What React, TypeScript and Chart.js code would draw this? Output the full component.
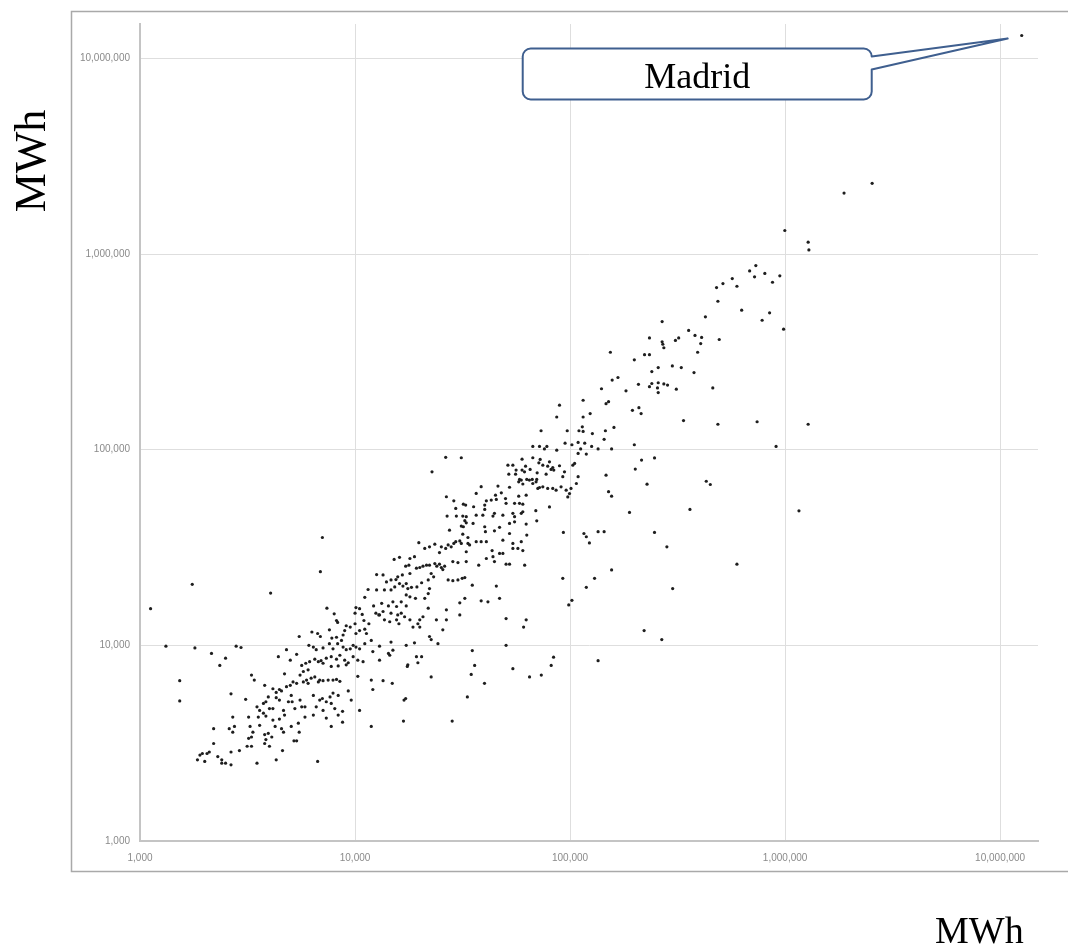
import React, { useEffect, useRef } from "react";
import { Chart, registerables } from "chart.js";

Chart.register(...registerables);

// Axis unit and tick values (decades)
const axisUnit = "MWh";
const decadeTicks = [1000, 10000, 100000, 1000000, 10000000];
const axisMin = 1000;
const axisMax = 15000000;

// Highlighted municipality
const highlight = { label: "Madrid", x: 12600000, y: 13100000 };

// Scatter points [x MWh, y MWh]
const lowOutliers: [number, number][] = [
  [1120, 15400], [1750, 20500], [1320, 9900], [1800, 9700], [2150, 9100], [2500, 8600], [2350, 7900],
  [2800, 9900], [2950, 9750], [4050, 18500], [6900, 23800], [7050, 35600], [1530, 6600], [1530, 5200],
];

const smallTowns: [number, number][] = [
  [7400, 15500], [8000, 14500], [10100, 15600], [10500, 15400], [10000, 14600], [10800, 14400], [12200, 15900],
  [12500, 14600], [12900, 14300], [8200, 13400], [8300, 13100], [9100, 12600], [9500, 12400], [10000, 12900],
  [11000, 13400], [11600, 12900], [11100, 12100], [10500, 11900], [10100, 11500], [8950, 11900], [8800, 11300],
  [8650, 10600], [8200, 11000], [7800, 10900], [7600, 12000], [6900, 11100], [6700, 11500], [6300, 11700], [5500, 11100],
  [4800, 9500], [6100, 10000], [6400, 9800], [6600, 9500], [7100, 9700], [7600, 10200], [7900, 9600], [8300, 10200],
  [8800, 9800], [9100, 9500], [9500, 9600], [9800, 10000], [10100, 9800], [10500, 9600], [11100, 10200], [12100, 9300],
  [11900, 10600], [11300, 11500],
  [4400, 8750], [5000, 8400], [5350, 9000], [5650, 7900], [5900, 8100], [6150, 8250], [6050, 7500], [5750, 7350],
  [6500, 8500], [6750, 8250], [6950, 8350], [7100, 8100], [7350, 8600], [7750, 8750], [8200, 8500], [8500, 8900],
  [8950, 8400], [9300, 8150], [9800, 8750], [10300, 8400], [10900, 8250], [7750, 7800], [8350, 7850], [9100, 7950],
  [3300, 7050], [3400, 6650], [2650, 5650], [3100, 5300], [3800, 6250], [4150, 6000], [4300, 5750], [4450, 5950],
  [4550, 5850], [4700, 7150], [4800, 6150], [5000, 6250], [5150, 6500], [5050, 5550], [5350, 6400], [5550, 7050],
  [5750, 6500], [5950, 6650], [6050, 6400], [6250, 6800], [6500, 6900], [6750, 6500], [6850, 6650], [7100, 6600],
  [7500, 6650], [7900, 6650], [8200, 6700], [8500, 6550], [9300, 5850], [9600, 5250], [10300, 6950], [10500, 4650],
  [11900, 6650], [12100, 5950], [11900, 3850],
  [3500, 4850], [3600, 4650], [3750, 5050], [3850, 5150], [3950, 5450], [4000, 4750], [4150, 4750], [4300, 5400],
  [4450, 5250], [4650, 4650], [4900, 5150], [5100, 5150], [5250, 4750], [5550, 5250], [5650, 4850], [5850, 4850],
  [6400, 5550], [6600, 4850], [6850, 5250], [7050, 5350], [7350, 5150], [7650, 5450], [7750, 5050], [7900, 5700],
  [8050, 4750], [8350, 5550], [8750, 4600], [7100, 4650], [7350, 4250], [8350, 4400], [7750, 3850], [8750, 4050],
  [2700, 4300], [3200, 4300], [3550, 4300], [3750, 4500], [3850, 4350], [4150, 4150], [4450, 4200], [4700, 4400],
  [5850, 4300], [6400, 4400],
  [2200, 3750], [2600, 3750], [2700, 3600], [2750, 3850], [3250, 3850], [3350, 3600], [3300, 3400], [3200, 3350],
  [3600, 3900], [3800, 3500], [3950, 3550], [4100, 3400], [4250, 3850], [4550, 3750], [4650, 3600], [5050, 3850],
  [5450, 4000], [5500, 3600], [5200, 3250], [5350, 3250],
  [3150, 3050], [3300, 3050], [3800, 3150], [3850, 3300], [4000, 3050], [2900, 2900], [2650, 2850], [2200, 3150],
  [2100, 2850], [2050, 2800], [1950, 2800], [1900, 2750], [2300, 2700], [2400, 2600], [2400, 2500], [2500, 2500],
  [2000, 2550], [1850, 2600], [2650, 2450], [3500, 2500], [4300, 2600], [4600, 2900], [6700, 2550],
];

const mediumTowns: [number, number][] = [
  [38600, 64700], [46200, 65200], [47900, 60200], [52300, 64300], [57700, 68500], [60300, 66800], [62500, 58600],
  [57700, 57900], [26600, 57500], [28800, 54800], [29400, 50100], [31900, 52700], [32700, 52100], [36600, 59800],
  [40100, 52100], [40800, 54800], [43000, 55300], [45400, 55700], [45000, 58600], [50100, 56300], [50400, 53200],
  [55200, 53200], [58200, 53200], [60300, 52700], [35600, 51100], [40100, 49500], [26800, 45800], [29600, 45800],
  [31700, 45800], [32900, 45500], [32400, 43400], [32900, 42300], [36600, 46300], [39300, 46300], [43800, 45800],
  [44500, 47300], [48700, 46300], [54200, 47300], [55200, 45500], [59300, 47300], [60300, 48200],
  [27500, 38800], [31200, 40700], [31900, 40400], [35400, 42000], [40100, 40400], [40400, 38100], [44500, 38500],
  [47000, 40100], [52300, 42000], [55200, 42800], [62500, 41700], [52300, 37300], [31700, 37000], [33500, 35600],
  [30700, 34200], [29400, 33900], [28800, 33200], [31200, 33200], [33500, 33200], [34100, 32600], [32900, 30100],
  [36600, 33900], [38600, 33900], [40800, 33900], [48700, 34500], [54200, 33200], [59300, 33900], [19800, 33500],
  [21100, 31300], [22200, 31900], [23500, 32900], [25200, 31900], [26400, 31300], [27100, 32600], [28000, 31900],
  [54200, 31300], [57200, 31300], [60300, 30500], [43400, 30500], [47000, 29500], [48700, 29500],
  [24700, 29800], [18900, 28400], [18000, 27800], [16100, 28200], [15200, 27500], [17200, 25400], [17800, 25700],
  [19300, 24800], [20000, 25000], [20700, 25400], [21500, 25700], [22200, 25700], [23500, 26200], [24000, 25400],
  [24700, 26000], [25200, 25000], [25600, 24400], [26100, 25400], [28500, 26800], [30100, 26500], [32900, 26800],
  [37600, 25700], [40800, 27800], [43800, 28400], [44500, 26800], [52300, 26000], [50400, 26000], [61500, 25700],
  [18000, 23300], [16600, 22900], [15800, 22400], [15500, 21700], [14700, 21600], [14000, 21100], [13500, 22900],
  [12600, 23000], [13700, 19200], [14700, 19200], [15300, 19900], [16100, 20700], [16700, 20100], [17300, 20700],
  [17600, 19500], [18300, 19800], [19400, 19900], [20400, 20900], [21900, 21600], [22600, 23300], [23200, 22400],
  [22200, 19500], [21900, 18400], [21100, 17400], [19100, 17400], [18000, 17700], [17300, 18100], [27100, 21600],
  [28500, 21400], [30100, 21600], [31500, 22000], [32400, 22200], [35100, 20300], [45400, 20100], [47000, 17400],
  [38600, 16900], [41500, 16700], [30700, 16500], [32400, 17400],
  [11100, 17600], [12600, 19200], [11500, 19300], [13300, 16400], [14300, 15900], [15000, 16700], [15600, 15800],
  [16400, 16700], [17300, 15900], [16400, 14600], [15800, 14300], [14700, 14600], [13500, 14900], [13000, 14300],
  [13700, 13500], [14500, 13200], [15600, 13500], [16000, 12900], [17000, 14000], [18000, 13500], [18600, 12400],
  [19600, 12900], [20000, 13500], [20700, 14000], [21900, 15500], [23900, 13500], [26600, 15200], [25600, 12000],
  [26600, 13500], [22200, 11100], [22600, 10700], [24300, 10200], [18900, 10300], [17300, 10000], [20000, 12400],
  [30700, 14300], [50400, 13700], [60800, 12400], [62500, 13500], [50400, 10000], [35100, 9400], [36000, 7900],
  [34700, 7100], [54200, 7600], [64800, 6900], [19300, 8750], [20400, 8750], [17600, 7950], [17500, 7800],
  [19600, 8150], [22600, 6900], [14700, 10400], [15000, 9450], [13000, 9900], [13000, 8400], [14300, 9100],
  [14500, 8900], [26400, 91400], [22800, 77100], [16800, 4100], [28300, 4100], [16900, 5250], [17200, 5350],
  [33300, 5450], [40000, 6400], [13500, 6600], [14900, 6400],
];

const largeTowns: [number, number][] = [
  [140000, 205000], [157000, 227000], [182000, 200000], [208000, 216000], [89300, 169000], [86700, 147000],
  [115000, 179000], [124000, 153000], [115000, 147000], [147000, 172000], [151000, 176000], [195000, 159000],
  [209000, 164000], [214000, 153000], [73300, 125000], [97000, 125000], [110000, 125000], [114000, 131000],
  [115000, 124000], [127000, 121000], [146000, 125000], [144000, 113000], [160000, 130000], [67100, 104000],
  [72100, 104000], [76000, 101000], [78000, 104000], [86700, 99500], [94800, 108000], [102000, 106000],
  [109000, 109000], [117000, 108000], [109000, 95700], [112000, 101000], [119000, 95000], [126000, 104000],
  [135000, 101000], [156000, 101000], [199000, 106000], [215000, 88500], [201000, 79600], [31200, 91000],
  [59800, 89500], [67100, 91000], [72600, 89200], [71600, 85700], [74700, 83400], [78700, 82400], [80200, 86700],
  [81600, 79300], [83100, 81100], [84000, 78700], [89300, 82800], [103000, 83400], [105000, 85100], [94200, 77100],
  [92500, 72800], [77400, 75000], [147000, 74100], [228000, 66700], [151000, 61000], [156000, 57900],
  [189000, 47800], [135000, 38100], [144000, 38100], [116000, 37300], [119000, 35900], [123000, 33400],
  [93100, 37800], [80200, 51000], [90800, 64600], [95900, 62100], [101000, 63400], [107000, 67200], [109000, 72800],
  [97600, 57400], [99400, 59700], [86100, 62100], [83100, 63400], [78700, 63400], [74700, 64600], [70800, 63400],
  [66700, 70500], [69500, 68500], [72100, 64100], [67100, 67200], [64700, 70000], [62900, 70500], [59300, 70000],
  [51400, 83400], [54200, 83400], [59800, 78700], [51900, 75000], [55800, 75000], [58200, 70500], [65200, 79300],
  [70300, 76200], [70000, 70500], [62100, 82400], [61400, 77100], [56100, 78700], [156000, 24300], [92500, 22000],
  [130000, 22000], [69300, 48800], [70000, 43300], [62900, 36600],
  [119000, 19800], [102000, 17000], [98600, 16100], [300000, 19500], [221000, 11900], [267000, 10700],
  [83800, 8700], [81700, 7900], [73500, 7050], [135000, 8350], [361000, 49500], [247000, 37800], [282000, 31900],
];

const cities: [number, number][] = [
  [997000, 1320000], [1280000, 1150000], [1290000, 1050000], [731000, 874000], [684000, 820000], [721000, 765000],
  [805000, 796000], [945000, 774000], [874000, 718000], [568000, 750000], [597000, 685000], [514000, 707000],
  [480000, 674000], [487000, 574000], [426000, 478000], [628000, 517000], [847000, 501000], [782000, 459000],
  [984000, 413000], [268000, 452000], [356000, 407000], [381000, 384000], [409000, 375000], [405000, 349000],
  [320000, 373000], [309000, 362000], [494000, 366000], [392000, 315000], [234000, 373000], [222000, 306000],
  [234000, 306000], [268000, 356000], [270000, 346000], [273000, 332000], [154000, 315000], [199000, 288000],
  [257000, 263000], [299000, 268000], [329000, 263000], [240000, 251000], [377000, 248000], [167000, 234000],
  [234000, 210000], [240000, 218000], [257000, 220000], [273000, 217000], [284000, 214000], [255000, 207000],
  [257000, 196000], [312000, 204000], [461000, 207000], [337000, 141000], [487000, 135000], [741000, 139000],
  [1280000, 135000], [908000, 104000], [247000, 90800], [430000, 69000], [449000, 66400], [1160000, 48700],
  [597000, 26000], [1880000, 2050000], [2540000, 2300000],
];

const allPoints = [...lowOutliers, ...smallTowns, ...mediumTowns, ...largeTowns, ...cities, [highlight.x, highlight.y]];

const fmt = (v: number) => Math.round(v).toLocaleString("en-US");

export default function App() {
  const ref = useRef<HTMLCanvasElement | null>(null);

  useEffect(() => {
    if (!ref.current) return;

    const decor = {
      id: "decor",
      beforeDraw(chart: any) {
        const ctx = chart.ctx;
        ctx.save();
        ctx.fillStyle = "#ffffff";
        ctx.fillRect(0, 0, chart.width, chart.height);
        ctx.strokeStyle = "#a9a9a9";
        ctx.lineWidth = 1.5;
        ctx.strokeRect(71.5, 11.5, 1010, 860);
        ctx.restore();
      },
      afterDraw(chart: any) {
        const ctx = chart.ctx;
        const xs = chart.scales.x;
        const ys = chart.scales.y;
        ctx.save();
        // axis titles
        ctx.fillStyle = "#000";
        ctx.font = '44px "Liberation Serif"';
        ctx.textAlign = "center";
        ctx.textBaseline = "alphabetic";
        ctx.save();
        ctx.translate(45, 161);
        ctx.rotate(-Math.PI / 2);
        ctx.fillText(axisUnit, 0, 0);
        ctx.restore();
        ctx.font = '38px "Liberation Serif"';
        ctx.textAlign = "left";
        ctx.fillText(axisUnit, 935, 943);

        // callout for highlighted point
        const px = xs.getPixelForValue(highlight.x);
        const py = ys.getPixelForValue(highlight.y);
        const left = px - 499;
        const right = px - 150;
        const top = py + 13;
        const bottom = py + 64;
        const r = 8;
        const tipX = px - 14;
        const tipY = py + 3;
        ctx.beginPath();
        ctx.moveTo(left + r, top);
        ctx.lineTo(right - r, top);
        ctx.arcTo(right, top, right, top + r, r);
        ctx.lineTo(right, top + 8);
        ctx.lineTo(tipX, tipY);
        ctx.lineTo(right, top + 21);
        ctx.lineTo(right, bottom - r);
        ctx.arcTo(right, bottom, right - r, bottom, r);
        ctx.lineTo(left + r, bottom);
        ctx.arcTo(left, bottom, left, bottom - r, r);
        ctx.lineTo(left, top + r);
        ctx.arcTo(left, top, left + r, top, r);
        ctx.closePath();
        ctx.fillStyle = "#ffffff";
        ctx.fill();
        ctx.strokeStyle = "#3f5f8f";
        ctx.lineWidth = 2;
        ctx.lineJoin = "round";
        ctx.stroke();
        ctx.fillStyle = "#000";
        ctx.font = '36px "Liberation Serif"';
        ctx.textAlign = "center";
        ctx.textBaseline = "alphabetic";
        ctx.fillText(highlight.label, (left + right) / 2, top + 39);
        ctx.restore();
      },
    };

    const tickFont = { family: '"Liberation Sans", Arial, sans-serif', size: 10 };

    const chart = new Chart(ref.current, {
      type: "scatter",
      data: {
        datasets: [
          {
            data: allPoints.map(([x, y]) => ({ x, y })),
            pointRadius: 1.6,
            pointHoverRadius: 1.6,
            backgroundColor: "#1e1e1e",
            borderWidth: 0,
          },
        ],
      },
      options: {
        responsive: false,
        animation: false,
        events: [],
        layout: { padding: { top: 24, right: 30, left: 0, bottom: 0 } },
        plugins: { legend: { display: false }, tooltip: { enabled: false } },
        scales: {
          x: {
            type: "logarithmic",
            min: axisMin,
            max: axisMax,
            afterBuildTicks: (s: any) => {
              s.ticks = decadeTicks.map((v) => ({ value: v }));
            },
            afterFit: (s: any) => {
              s.height = 106;
            },
            grid: { color: "#dedede", lineWidth: 1, drawTicks: false },
            border: { color: "#c4c4c4", width: 2 },
            ticks: {
              color: "#8a8a8a",
              font: tickFont,
              padding: 11,
              maxRotation: 0,
              autoSkip: false,
              callback: (v: any) => fmt(Number(v)),
            },
          },
          y: {
            type: "logarithmic",
            min: axisMin,
            max: axisMax,
            afterBuildTicks: (s: any) => {
              s.ticks = decadeTicks.map((v) => ({ value: v }));
            },
            afterFit: (s: any) => {
              s.width = 140;
            },
            grid: { color: "#dedede", lineWidth: 1, drawTicks: false },
            border: { color: "#c4c4c4", width: 2 },
            ticks: {
              color: "#8a8a8a",
              font: tickFont,
              padding: 10,
              autoSkip: false,
              callback: (v: any) => fmt(Number(v)),
            },
          },
        },
      },
      plugins: [decor],
    });

    return () => chart.destroy();
  }, []);

  return (
    <div style={{ position: "absolute", left: 0, top: 0, width: 1068, height: 947, background: "#fff" }}>
      <canvas ref={ref} width={1068} height={947} style={{ width: 1068, height: 947, display: "block" }} />
    </div>
  );
}
